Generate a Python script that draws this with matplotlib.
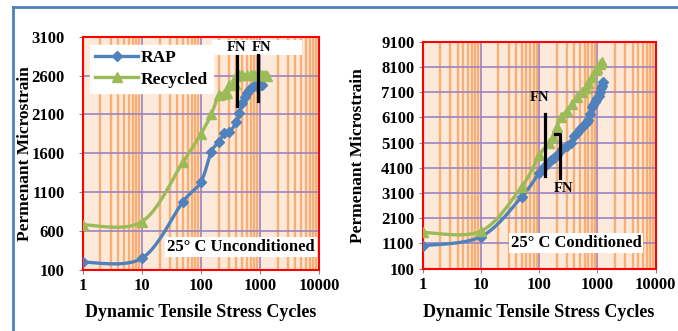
import numpy as np
import matplotlib
matplotlib.use("Agg")
import matplotlib.pyplot as plt
from matplotlib.ticker import FixedLocator, FuncFormatter, LogLocator
from matplotlib.lines import Line2D

# ---------------- data ----------------
# Left panel: 25 C Unconditioned
unc_rap_cycles = [1, 10, 50, 100, 150, 200, 250, 300, 400, 450, 500, 550, 600, 650, 700, 800, 900, 1000, 1100]
unc_rap_strain = [200, 250, 980, 1230, 1620, 1740, 1860, 1870, 2000, 2120, 2250, 2330, 2380, 2420, 2440, 2460, 2470, 2480, 2480]
unc_rec_cycles = [1, 10, 50, 100, 150, 200, 250, 280, 300, 350, 380, 400, 450, 500, 600, 700, 800, 900, 1000, 1100, 1200, 1300]
unc_rec_strain = [680, 720, 1490, 1850, 2100, 2350, 2360, 2370, 2480, 2480, 2490, 2600, 2610, 2610, 2610, 2610, 2610, 2610, 2610, 2610, 2610, 2600]
unc_fn_cycles = [405, 940]
unc_fn_label_cycles = [395, 1080]
unc_fn_low = [2211, 2276]
unc_fn_high = [2846, 2868]

# Right panel: 25 C Conditioned
con_rap_cycles = [1, 10, 50, 100, 120, 140, 160, 180, 200, 250, 300, 350, 400, 450, 500, 550, 600, 650, 700,
                  750, 800, 850, 900, 950, 1000, 1050, 1100, 1150, 1200, 1230]
con_rap_strain = [1010, 1370, 2950, 3910, 4150, 4300, 4400, 4500, 4600, 4850, 4980, 5100, 5350, 5500, 5650, 5730,
                  5820, 5900, 6000, 6250, 6500, 6600, 6700, 6780, 6850, 6950, 7100, 7250, 7350, 7500]
con_rec_cycles = [1, 10, 50, 100, 150, 170, 200, 235, 300, 370, 450, 550, 630, 700, 800, 930, 1000, 1100, 1200]
con_rec_strain = [1540, 1590, 3350, 4600, 5100, 5330, 5700, 6120, 6350, 6650, 6900, 7100, 7250, 7450, 7700,
                  7970, 8050, 8200, 8300]
con_fn1_cycles = 125
con_fn1_range = [3780, 6230]
con_fn2_hook = [186, 226]
con_fn2_range = [3680, 5430]

x_ticks = [1, 10, 100, 1000, 10000]
unc_yticks = [100, 600, 1100, 1600, 2100, 2600, 3100]
con_yticks = [100, 1100, 2100, 3100, 4100, 5100, 6100, 7100, 8100, 9100]

# ---------------- style ----------------
BLUE = "#4F81BD"
GREEN = "#9BBB59"
BG = "#FDE9D9"
ORANGE = "#F9AE74"
PURPLE = "#9A84C2"
SERIF = "Liberation Serif"

plt.rcParams["font.family"] = SERIF
plt.rcParams["font.weight"] = "bold"

fig = plt.figure(figsize=(6.78, 3.31), dpi=100)
fig.patch.set_facecolor("white")


def smooth(xs, ys, ax, n=20):
    """Excel-like smoothed line: Catmull-Rom in display-normalised log space."""
    lx = np.log10(np.asarray(xs, float))
    yy = np.asarray(ys, float)
    x0, x1 = np.log10(ax.get_xlim())
    y0, y1 = ax.get_ylim()
    px = (lx - x0) / (x1 - x0)
    py = (yy - y0) / (y1 - y0)
    P = np.column_stack([px, py])
    P = np.vstack([P[0], P, P[-1]])
    out = []
    t = np.linspace(0, 1, n, endpoint=False)
    for i in range(1, len(P) - 2):
        p0, p1, p2, p3 = P[i - 1], P[i], P[i + 1], P[i + 2]
        m1 = (p2 - p0) / 2
        m2 = (p3 - p1) / 2
        h00 = 2 * t**3 - 3 * t**2 + 1
        h10 = t**3 - 2 * t**2 + t
        h01 = -2 * t**3 + 3 * t**2
        h11 = t**3 - t**2
        seg = (h00[:, None] * p1 + h10[:, None] * m1 + h01[:, None] * p2 + h11[:, None] * m2)
        out.append(seg)
    out.append(P[-2][None, :])
    S = np.vstack(out)
    sx = 10 ** (S[:, 0] * (x1 - x0) + x0)
    sy = S[:, 1] * (y1 - y0) + y0
    return sx, sy


def style_axes(ax, yticks, ylim, ylab_x, xlab_y, ypad):
    ax.set_facecolor(BG)
    ax.set_xscale("log")
    ax.set_xlim(1, 10000)
    ax.set_ylim(*ylim)
    ax.xaxis.set_major_locator(FixedLocator(x_ticks))
    ax.xaxis.set_major_formatter(FuncFormatter(lambda v, p: f"{int(round(v))}"))
    ax.xaxis.set_minor_locator(LogLocator(base=10, subs=np.arange(2, 10), numticks=100))
    ax.yaxis.set_major_locator(FixedLocator(yticks))
    ax.grid(True, which="minor", axis="x", color=ORANGE, lw=1.7, zorder=0)
    ax.grid(True, which="major", axis="both", color=PURPLE, lw=1.2, zorder=0)
    ax.set_axisbelow(True)
    for s in ax.spines.values():
        s.set_color("#FF0000")
        s.set_linewidth(1.5)
    ax.tick_params(which="major", length=3, color="#888888", labelsize=12, pad=3)
    ax.tick_params(axis="y", which="major", pad=ypad)
    ax.tick_params(which="minor", length=0)
    for lab in ax.get_xticklabels() + ax.get_yticklabels():
        lab.set_fontweight("bold")
        lab.set_fontfamily(SERIF)
    ax.set_xlabel("Dynamic Tensile Stress Cycles", fontsize=13, fontweight="bold")
    ax.set_ylabel("Permenant Microstrain", fontsize=12.5, fontweight="bold")
    ax.xaxis.set_label_coords(0.5, xlab_y)
    ax.yaxis.set_label_coords(ylab_x, 0.5)


def plot_series(ax, xs, ys, color, marker, ms, label):
    sx, sy = smooth(xs, ys, ax)
    ax.plot(sx, sy, color=color, lw=2.4, zorder=3, solid_capstyle="round")
    ax.plot(xs, ys, ls="none", marker=marker, color=color, ms=ms, zorder=4)
    return Line2D([], [], color=color, lw=2.4, marker=marker, ms=ms, label=label)


# ---------------- left panel ----------------
ax1 = fig.add_axes([0.122, 0.1843, 0.3485, 0.705])
style_axes(ax1, unc_yticks, (100, 3100), -0.21, -0.146, 10)
h1 = plot_series(ax1, unc_rap_cycles, unc_rap_strain, BLUE, "D", 5, "RAP")
h2 = plot_series(ax1, unc_rec_cycles, unc_rec_strain, GREEN, "^", 7, "Recycled")
leg = ax1.legend(handles=[h1, h2], loc="upper left", bbox_to_anchor=(0.03, 0.965),
                 frameon=True, fancybox=False, framealpha=1, edgecolor="white",
                 prop={"family": SERIF, "weight": "bold", "size": 12.5},
                 handlelength=2.5, handletextpad=0.15, borderpad=0.3, labelspacing=0.3,
                 borderaxespad=0)
leg.set_zorder(6)
# FN label box
ax1.add_patch(plt.Rectangle((0.547, 0.923), 0.383, 0.064, transform=ax1.transAxes,
                            facecolor="white", edgecolor="none", zorder=5))
for c in unc_fn_label_cycles:
    ax1.text(c, 0.955, "FN", transform=ax1.get_xaxis_transform(), ha="center", va="center",
             fontsize=10.5, fontweight="bold", zorder=6)
for c, lo, hi in zip(unc_fn_cycles, unc_fn_low, unc_fn_high):
    ax1.plot([c, c], [lo, hi], color="black", lw=2.3, zorder=6)
ax1.text(0.67, 0.10, "25° C Unconditioned", transform=ax1.transAxes, ha="center", va="center",
         fontsize=12, fontweight="bold", zorder=6,
         bbox=dict(facecolor="white", edgecolor="none", pad=1.5))

# ---------------- right panel ----------------
ax2 = fig.add_axes([0.6234, 0.1882, 0.3437, 0.6858])
style_axes(ax2, con_yticks, (100, 9100), -0.245, -0.155, 3)
plot_series(ax2, con_rap_cycles, con_rap_strain, BLUE, "D", 5, "RAP")
plot_series(ax2, con_rec_cycles, con_rec_strain, GREEN, "^", 7, "Recycled")
ax2.plot([con_fn1_cycles, con_fn1_cycles], con_fn1_range, color="black", lw=2.3, zorder=6)
ax2.plot([con_fn2_hook[0], con_fn2_hook[1], con_fn2_hook[1]],
         [con_fn2_range[1], con_fn2_range[1], con_fn2_range[0]], color="black", lw=2.3, zorder=6)
ax2.text(0.503, 0.756, "FN", transform=ax2.transAxes, ha="center", va="center",
         fontsize=10.5, fontweight="bold", zorder=6)
ax2.text(0.606, 0.355, "FN", transform=ax2.transAxes, ha="center", va="center",
         fontsize=10.5, fontweight="bold", zorder=6)
ax2.text(0.658, 0.113, "25° C Conditioned", transform=ax2.transAxes, ha="center", va="center",
         fontsize=12, fontweight="bold", zorder=6,
         bbox=dict(facecolor="white", edgecolor="none", pad=1.5))

# ---------------- blue frame ----------------
fig.add_artist(Line2D([0.0187, 1.0], [0.979, 0.979], transform=fig.transFigure, color=BLUE, lw=2))
fig.add_artist(Line2D([0.0187, 0.0187], [0.0, 0.979], transform=fig.transFigure, color=BLUE, lw=2))

fig.savefig("out.png", dpi=100, facecolor="white")
